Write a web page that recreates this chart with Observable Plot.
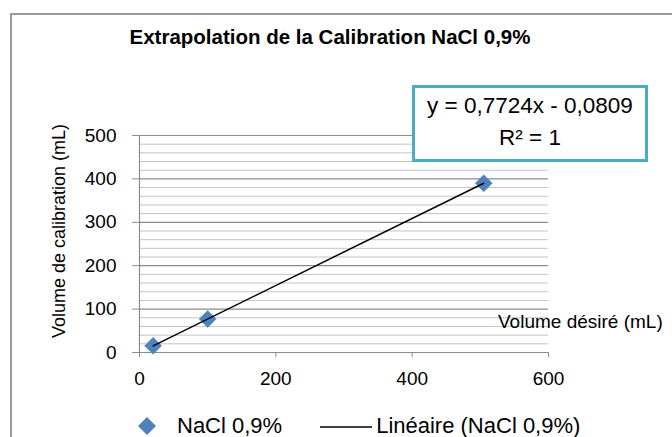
<!DOCTYPE html>
<html><head><meta charset="utf-8">
<script src="https://cdn.jsdelivr.net/npm/d3@7"></script>
<script src="https://cdn.jsdelivr.net/npm/@observablehq/plot@0.6"></script>
<style>
body{margin:0;background:#fff;}
#wrap{position:relative;width:672px;height:437px;overflow:hidden;background:#fff;font-family:"Liberation Sans",Arial,sans-serif;color:#000;}
#frame{position:absolute;left:10px;top:13px;width:700px;height:500px;border-left:2px solid #9a9a9a;border-top:2px solid #9a9a9a;}
#title{position:absolute;left:0;width:660px;top:25px;text-align:center;font-weight:bold;font-size:20.5px;}
#eq{position:absolute;left:412px;top:85px;width:230px;height:69px;border:3px solid #4bacc6;background:#fff;text-align:center;font-size:22.5px;line-height:32px;padding-top:2px;box-sizing:content-box;}
#ylab{position:absolute;left:59px;top:231px;transform:translate(-50%,-50%) rotate(-90deg);white-space:nowrap;font-size:18px;}
#xlab{position:absolute;left:498px;top:311px;white-space:nowrap;font-size:19px;}
#legend{position:absolute;left:137px;top:413px;font-size:22px;white-space:nowrap;display:flex;align-items:center;}
#legend svg{display:block;}
#plot{position:absolute;left:0;top:0;}
</style></head>
<body>
<div id="wrap">
  <div id="frame"></div>
  <div id="plot"></div>
  <div id="title"></div>
  <div id="eq"></div>
  <div id="ylab"></div>
  <div id="xlab"></div>
  <div id="legend"></div>
</div>
<script>
// ---- data ----
const volumeDesire = [20, 100, 505];
const volumeCalibration = [15.4, 77.2, 390];
const xTicks = [0, 200, 400, 600];
const yTicks = [0, 100, 200, 300, 400, 500];
const yMinorTicks = [20,40,60,80,120,140,160,180,220,240,260,280,320,340,360,380,420,440,460,480];
const titleText = "Extrapolation de la Calibration NaCl 0,9%";
const equationLines = ["y = 0,7724x - 0,0809", "R² = 1"];
const yLabel = "Volume de calibration (mL)";
const xLabel = "Volume désiré (mL)";
const seriesName = "NaCl 0,9%";
const trendName = "Linéaire  (NaCl 0,9%)";

const data = volumeDesire.map((x, i) => ({x, y: volumeCalibration[i]}));

const chart = Plot.plot({
  width: 672,
  height: 437,
  marginLeft: 139,
  marginRight: 124,
  marginTop: 135,
  marginBottom: 85,
  style: {fontFamily: '"Liberation Sans",Arial,sans-serif', fontSize: "19px", color: "#000", background: "transparent"},
  x: {domain: [0, 600]},
  y: {domain: [0, 500]},
  marks: [
    Plot.gridY(yMinorTicks, {stroke: "#c4c4c4", strokeOpacity: 1, strokeWidth: 1}),
    Plot.gridY(yTicks, {stroke: "#8c8c8c", strokeOpacity: 1, strokeWidth: 1.2}),
    Plot.ruleX([0], {stroke: "#8c8c8c", strokeWidth: 1.2}),
    Plot.axisY(yTicks, {tickSize: 7, tickPadding: 16, stroke: "#8c8c8c", label: null, fill: "#000", fontSize: 19}),
    Plot.axisX(xTicks, {tickSize: 5, tickPadding: 14, stroke: "#8c8c8c", label: null, fill: "#000", fontSize: 19}),
    Plot.dot(data, {x: "x", y: "y", symbol: "square", rotate: 45, r: 6.8, fill: "#4f81bd", stroke: "#4f81bd", strokeWidth: 0.5}),
    Plot.linearRegressionY(data, {x: "x", y: "y", stroke: "#000", strokeWidth: 1.5, ci: 0})
  ]
});
document.getElementById("plot").appendChild(chart);

document.getElementById("title").textContent = titleText;
document.getElementById("eq").innerHTML = equationLines.map(t => `<div>${t}</div>`).join("");
document.getElementById("ylab").textContent = yLabel;
document.getElementById("xlab").textContent = xLabel;
document.getElementById("legend").innerHTML =
  `<svg width="20" height="20"><path d="M10,1 L19,10 L10,19 L1,10Z" fill="#4f81bd"/></svg>` +
  `<span style="margin-left:20px">${seriesName}</span>` +
  `<svg width="52" height="20" style="margin-left:38px"><line x1="0" y1="11" x2="52" y2="11" stroke="#000" stroke-width="1.5"/></svg>` +
  `<span style="margin-left:4px">${trendName}</span>`;
</script>
</body></html>
